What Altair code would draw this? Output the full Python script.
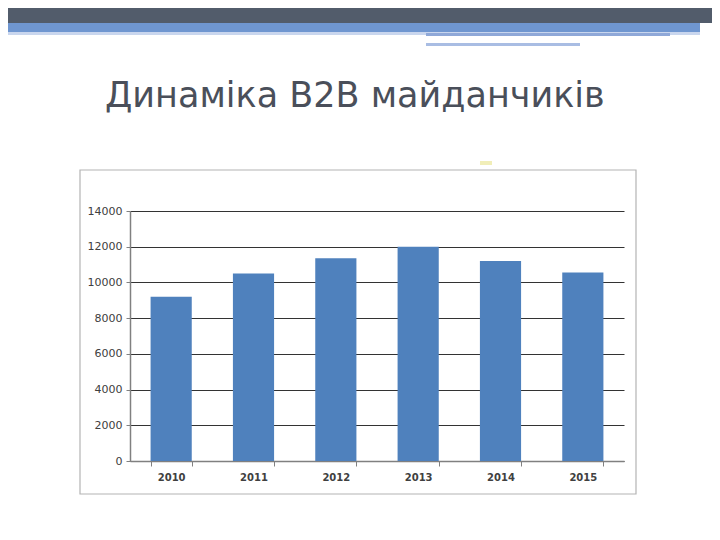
import altair as alt
import pandas as pd

years = ["2010", "2011", "2012", "2013", "2014", "2015"]
values = [9200, 10500, 11350, 12000, 11200, 10550]
y_ticks = [0, 2000, 4000, 6000, 8000, 10000, 12000, 14000]
title_text = "Динаміка B2B майданчиків"

df = pd.DataFrame({"year": years, "value": values})

W, H = 494, 250
PL, PT = 122, 203  # padding so plot area lands at (130, 211) on page
TOTAL_W, TOTAL_H = 704, 524

def deco(x, x2, y, y2, color):
    return alt.Chart(df.head(1)).mark_rect(color=color, clip=False, strokeWidth=0).encode(
        x=alt.value(x), x2=alt.value(x2), y=alt.value(y), y2=alt.value(y2)
    )

# decorative slide header and chart frame
header_dark = deco(-PL, TOTAL_W - PL, -PT, -188, "#525c6b")
header_blue = deco(-PL, 570, -188, -179, "#6f96d0")
header_light = deco(-PL, 570, -179, -176, "#c9d6ee")
line1 = deco(296, 540, -178, -175, "#8fa8d8")
line2 = deco(296, 450, -168, -165, "#a9bde3")
mark_y = deco(350, 362, -50, -46, "#f1eeb8")
frame = alt.Chart(df.head(1)).mark_rect(fillOpacity=0, stroke="#b4b4b4", strokeWidth=1.2, clip=False).encode(
    x=alt.value(-50), x2=alt.value(506), y=alt.value(-41), y2=alt.value(283)
)

title = alt.Chart(pd.DataFrame({"t": [title_text]})).mark_text(
    align="left", baseline="alphabetic", fontSize=35, font="DejaVu Sans",
    color="#4a4f5a", clip=False
).encode(text="t:N", x=alt.value(-25), y=alt.value(-104))

bars = alt.Chart(df).mark_bar(color="#4f81bd").encode(
    x=alt.X("year:N", sort=years, title=None,
            scale=alt.Scale(paddingInner=0.5, paddingOuter=0.25),
            axis=alt.Axis(labelAngle=0, labelFontWeight="bold", labelFontSize=10,
                          labelColor="#404040", labelFont="DejaVu Sans",
                          domainColor="#808080", domainWidth=1.5,
                          tickColor="#808080", tickBand="extent", tickSize=5,
                          labelPadding=6)),
    y=alt.Y("value:Q", title=None,
            scale=alt.Scale(domain=[0, 14000], nice=False),
            axis=alt.Axis(values=y_ticks, format="d", labelFontSize=11,
                          labelColor="#404040", labelFont="DejaVu Sans",
                          domainColor="#808080", domainWidth=1.5,
                          tickColor="#808080", tickSize=4, labelPadding=4,
                          grid=True, gridColor="#333333", gridWidth=1)),
)

chart = alt.layer(header_dark, header_blue, header_light, line1, line2, mark_y, frame, title, bars).properties(
    width=W, height=H,
    autosize=alt.AutoSizeParams(type="none"),
    padding={"left": PL, "top": PT, "right": TOTAL_W - PL - W, "bottom": TOTAL_H - PT - H},
).configure_view(stroke=None)

chart.save("out.html", embed_options={"renderer": "svg", "actions": False})
